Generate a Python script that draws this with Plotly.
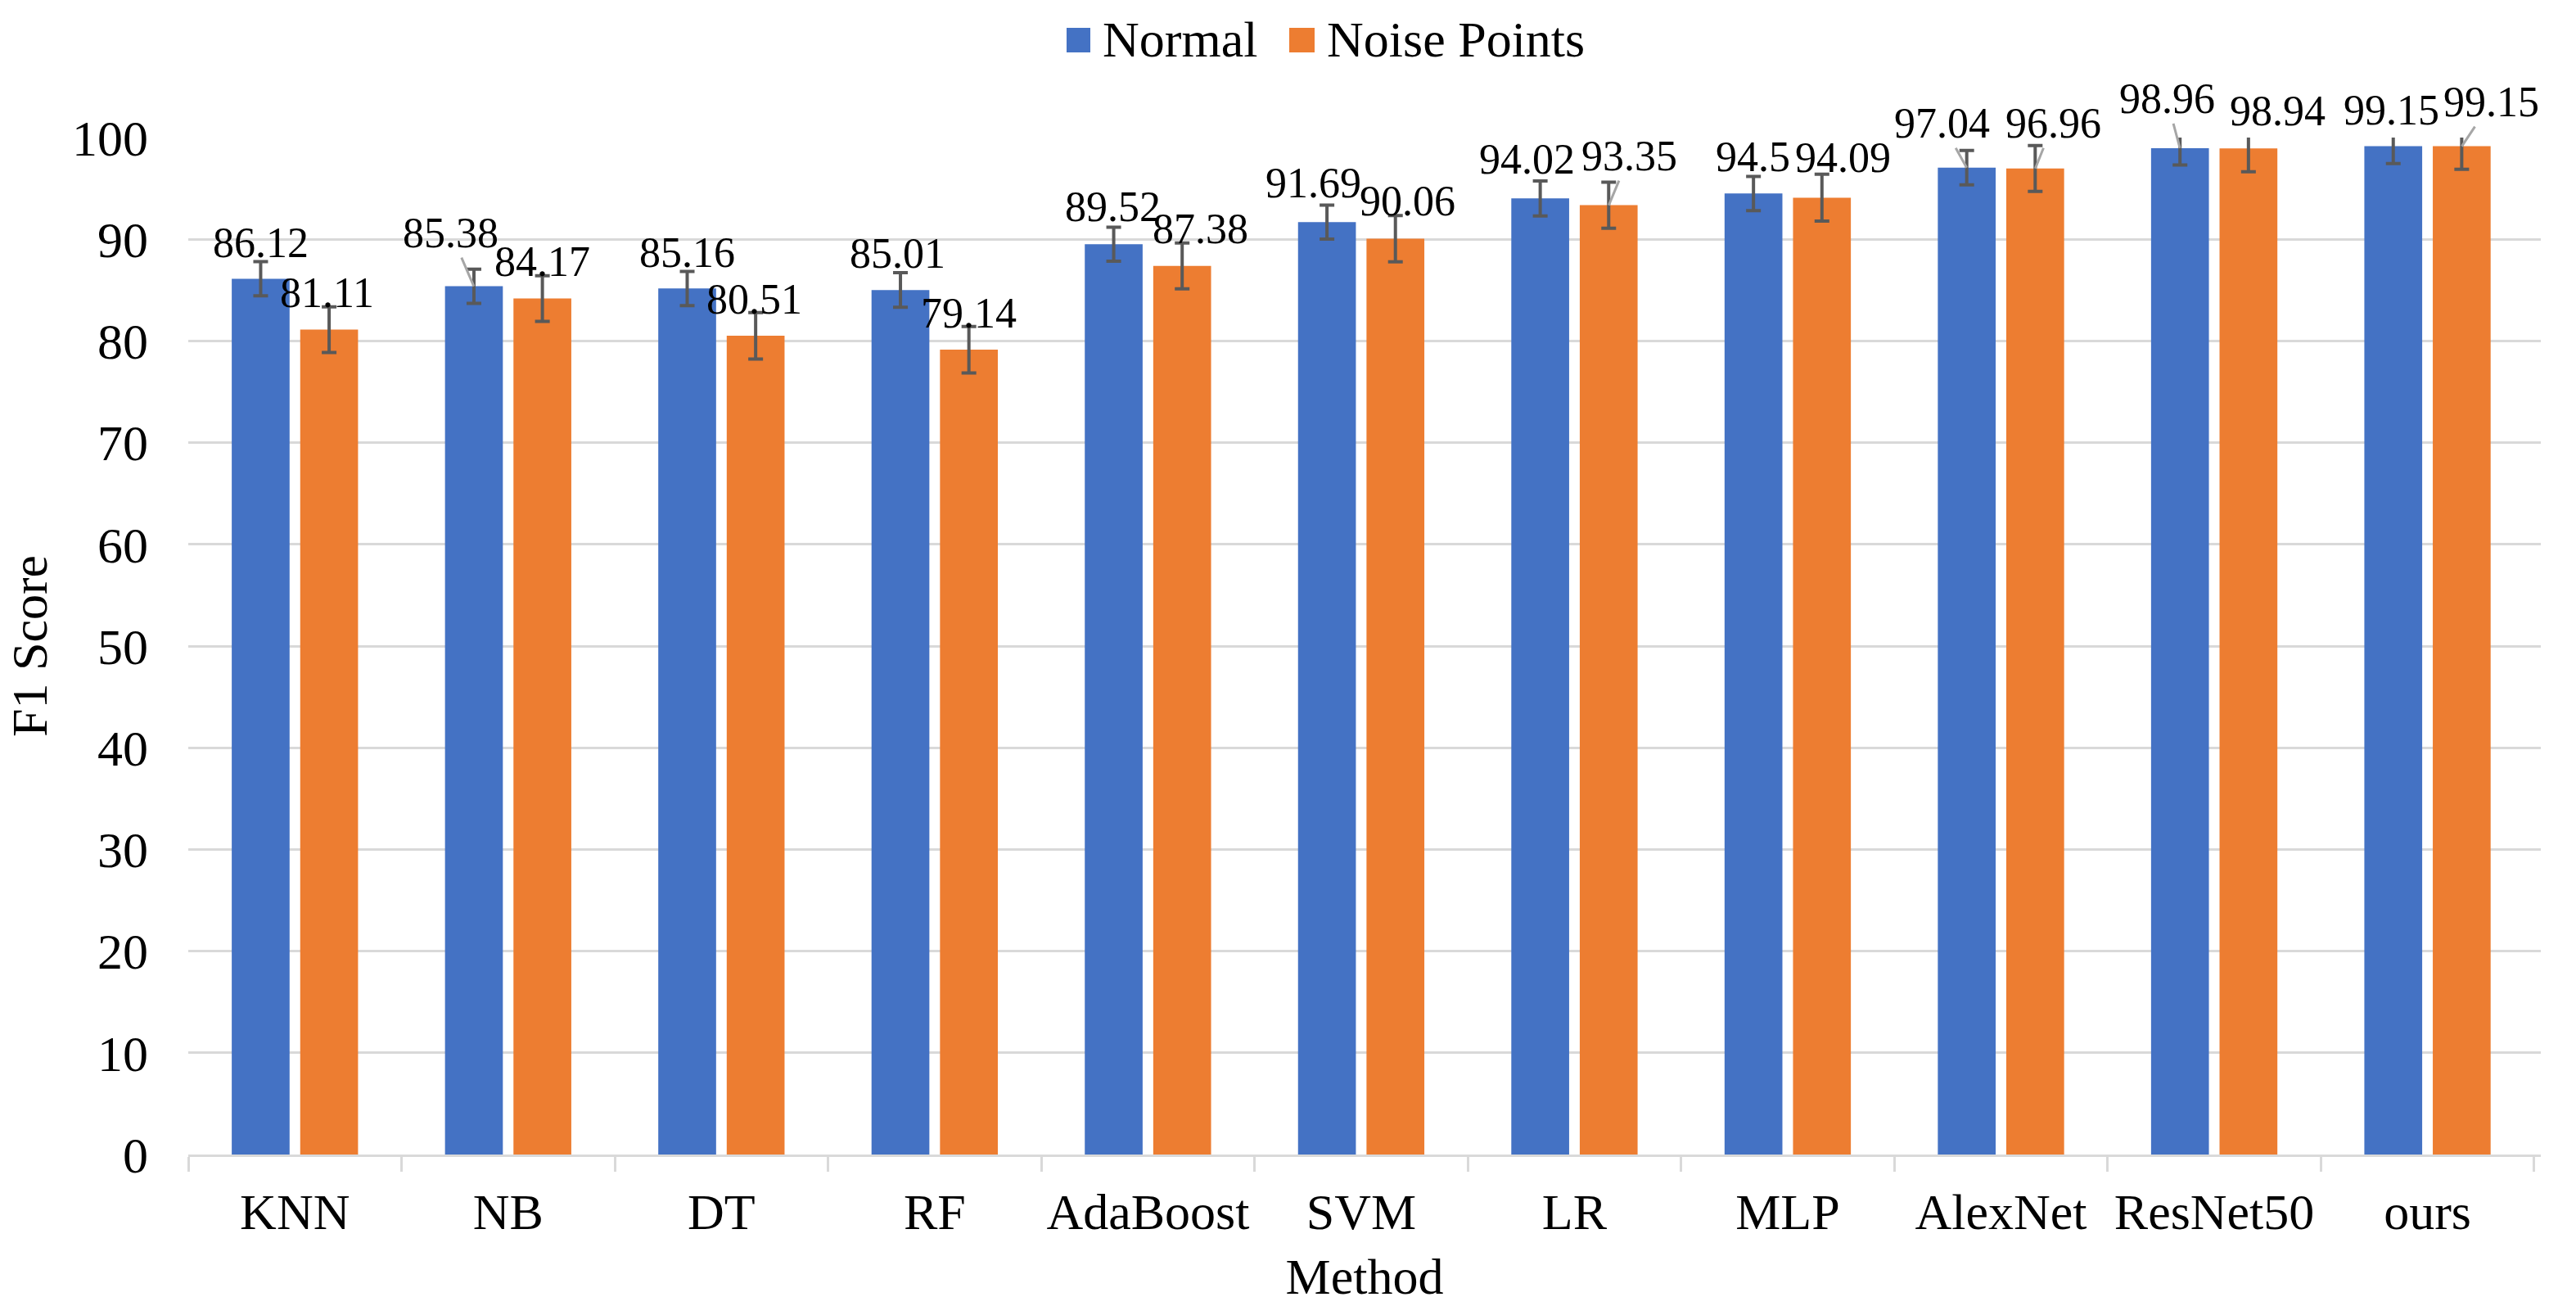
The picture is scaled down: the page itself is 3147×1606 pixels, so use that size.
import plotly.graph_objects as go

# ---------------- data ----------------
methods = ["KNN", "NB", "DT", "RF", "AdaBoost", "SVM", "LR", "MLP", "AlexNet", "ResNet50", "ours"]
normal = [86.12, 85.38, 85.16, 85.01, 89.52, 91.69, 94.02, 94.5, 97.04, 98.96, 99.15]
noise = [81.11, 84.17, 80.51, 79.14, 87.38, 90.06, 93.35, 94.09, 96.96, 98.94, 99.15]
normal_err = [1.68, 1.68, 1.68, 1.70, 1.67, 1.67, 1.72, 1.68, 1.69, 1.66, 1.70]
noise_err = [2.25, 2.25, 2.28, 2.28, 2.25, 2.28, 2.27, 2.30, 2.25, 2.30, 2.26]
y_ticks = [0, 10, 20, 30, 40, 50, 60, 70, 80, 90, 100]
series_names = ["Normal", "Noise Points"]

# ---------------- label placement (pixel nudges, layout only) ----------------
normal_label_dx = [0, -28, 0, -3, -1, -16, -16, -1, -30, -16, -2]
normal_label_dy = [-44, -65, -44, -45, -46, -48, -48, -45, -54, -60, -44]
normal_leader = [False, True, False, False, False, False, False, False, True, True, False]
noise_label_dx = [-3, 0, -2, 0, 22, 15, 25, 26, 22, 36, 36]
noise_label_dy = [-45, -45, -45, -45, -45, -46, -60, -49, -55, -46, -54]
noise_leader = [False, False, False, False, False, False, True, False, True, False, True]

# ---------------- styles ----------------
BLUE = "#4472C4"
ORANGE = "#ED7D31"
ERR = "#595959"
GRID = "#D9D9D9"
LEADER = "#A6A6A6"
FONT = "Liberation Serif, Times New Roman, serif"

W, H = 3147, 1606
ML, MR, MT, MB = 230, 43, 168, 196
PW = W - ML - MR
PH = H - MT - MB
BARGAP = 0.358
BARGROUPGAP = 0.155
offset = (1 - BARGAP) * (PW / len(methods)) / 4.0


def px_x(px):
    return (px - ML) / PW


def px_y(py):
    return (H - MB - py) / PH


fig = go.Figure()
fig.add_trace(go.Bar(
    x=methods, y=normal, name=series_names[0], marker=dict(color=BLUE, line=dict(width=0)),
    error_y=dict(type="data", array=normal_err, visible=True, color=ERR, thickness=4, width=9),
    cliponaxis=True,
))
fig.add_trace(go.Bar(
    x=methods, y=noise, name=series_names[1], marker=dict(color=ORANGE, line=dict(width=0)),
    error_y=dict(type="data", array=noise_err, visible=True, color=ERR, thickness=4, width=9),
    cliponaxis=True,
))

annotations = []
for vals, dxs, dys, leaders, sign in [
    (normal, normal_label_dx, normal_label_dy, normal_leader, -1),
    (noise, noise_label_dx, noise_label_dy, noise_leader, 1),
]:
    for m, v, dx, dy, lead in zip(methods, vals, dxs, dys, leaders):
        annotations.append(dict(
            x=m, y=v, xref="x", yref="y", xshift=sign * offset,
            text=f"{v:g}", showarrow=True, ax=dx, ay=dy, axref="pixel", ayref="pixel",
            arrowhead=0, arrowwidth=3, standoff=0, startstandoff=0,
            arrowcolor=LEADER if lead else "rgba(0,0,0,0)",
            font=dict(family=FONT, size=52, color="black"),
        ))

# custom legend (large square swatches)
legend_items = [
    (BLUE, series_names[0], 1303, 1332, 1345),
    (ORANGE, series_names[1], 1575, 1606, 1619),
]
shapes = []
for color, name, x0, x1, tx in legend_items:
    shapes.append(dict(type="rect", xref="paper", yref="paper",
                       x0=px_x(x0), x1=px_x(x1), y0=px_y(64), y1=px_y(34),
                       fillcolor=color, line=dict(width=0)))
    annotations.append(dict(x=px_x(tx), y=px_y(48), xref="paper", yref="paper",
                            text=name, showarrow=False, xanchor="left", yanchor="middle",
                            font=dict(family=FONT, size=62, color="black")))

fig.update_layout(
    width=W, height=H,
    margin=dict(l=ML, r=MR, t=MT, b=MB, autoexpand=False),
    plot_bgcolor="white", paper_bgcolor="white",
    barmode="group", bargap=BARGAP, bargroupgap=BARGROUPGAP,
    font=dict(family=FONT, size=62, color="black"),
    showlegend=False,
    xaxis=dict(
        showline=True, linecolor=GRID, linewidth=3,
        ticks="outside", tickson="boundaries", ticklen=18, tickwidth=3, tickcolor=GRID,
        showgrid=False, ticklabelstandoff=14,
        tickfont=dict(family=FONT, size=62, color="black"),
        title=dict(text="Method", standoff=24, font=dict(family=FONT, size=62, color="black")),
    ),
    yaxis=dict(
        range=[0, 100], tickvals=y_ticks, ticktext=[str(t) for t in y_ticks],
        showgrid=True, gridcolor=GRID, gridwidth=3, zeroline=False, showline=False,
        ticks="", ticklabelstandoff=48,
        tickfont=dict(family=FONT, size=62, color="black"),
        title=dict(text="F1 Score", standoff=10, font=dict(family=FONT, size=62, color="black")),
    ),
    annotations=annotations,
    shapes=shapes,
)

fig.write_html("out.html", config={"displayModeBar": False},
               post_script="document.body.style.margin='0';")
